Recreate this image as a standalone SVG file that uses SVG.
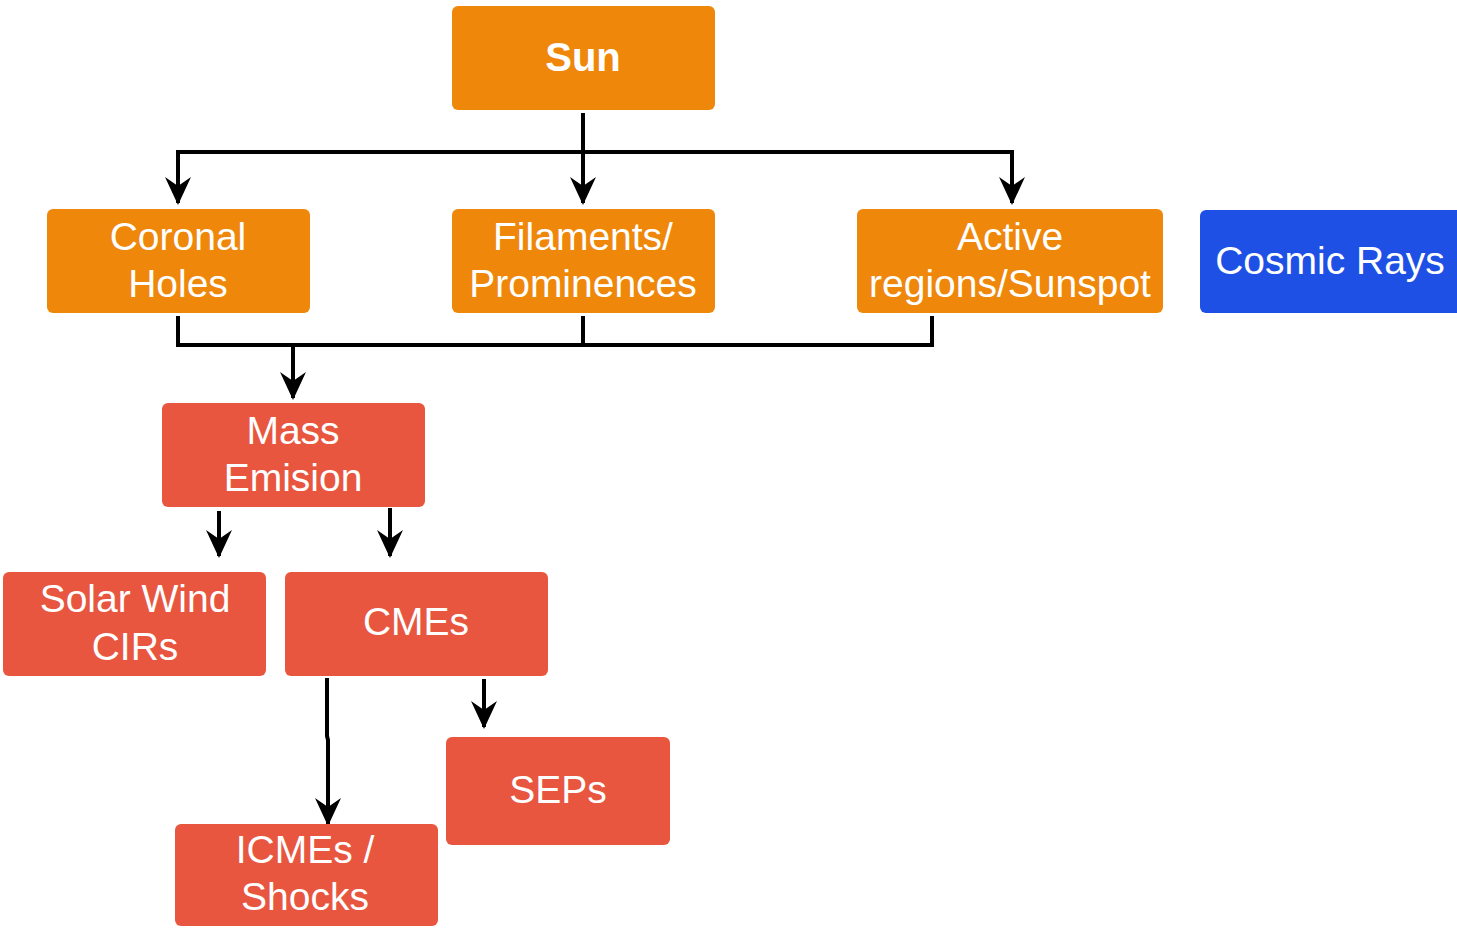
<svg xmlns="http://www.w3.org/2000/svg" width="1457" height="929" viewBox="0 0 1457 929">
<style>
.o{fill:#EF870B}
.r{fill:#E8563F}
.b{fill:#1F50E6}
text{font-family:"Liberation Sans",Arial,sans-serif;font-size:39px;fill:#FFFFFF;text-anchor:middle}
.bold{font-weight:bold;font-size:40px}
.c{fill:none;stroke:#000;stroke-width:4}
</style>
<defs>
<marker id="a" markerUnits="userSpaceOnUse" markerWidth="28" markerHeight="28" refX="26" refY="13" orient="auto" viewBox="0 0 28 26">
<path d="M0,0 L9,13 L0,26 L28,13 Z" fill="#000"/>
</marker>
</defs>
<rect width="1457" height="929" fill="#fff"/>
<g id="connectors">
<path class="c" d="M583,113 V203" marker-end="url(#a)"/>
<path class="c" d="M178,152 H1012"/>
<path class="c" d="M178,150 V203" marker-end="url(#a)"/>
<path class="c" d="M1012,150 V203" marker-end="url(#a)"/>
<path class="c" d="M178,316 V345 H932 V316"/>
<path class="c" d="M583,316 V345"/>
<path class="c" d="M293,345 V398" marker-end="url(#a)"/>
<path class="c" d="M219,511 V556" marker-end="url(#a)"/>
<path class="c" d="M390,508 V556" marker-end="url(#a)"/>
<path class="c" d="M327,678 V736 L328,740 V824" marker-end="url(#a)"/>
<path class="c" d="M484,679 V727" marker-end="url(#a)"/>
</g>
<g id="sun"><rect class="o" x="452" y="6" width="263" height="104" rx="6"/><text class="bold" x="583" y="71">Sun</text></g>
<g id="coronal-holes"><rect class="o" x="47" y="209" width="263" height="104" rx="6"/><text x="178" y="250">Coronal</text><text x="178" y="297">Holes</text></g>
<g id="filaments"><rect class="o" x="452" y="209" width="263" height="104" rx="6"/><text x="583" y="250">Filaments/</text><text x="583" y="297">Prominences</text></g>
<g id="active-regions"><rect class="o" x="857" y="209" width="306" height="104" rx="6"/><text x="1010" y="250">Active</text><text x="1010" y="297">regions/Sunspot</text></g>
<g id="cosmic-rays"><rect class="b" x="1200" y="210" width="265" height="103" rx="6"/><text x="1330" y="274">Cosmic Rays</text></g>
<g id="mass-emision"><rect class="r" x="162" y="403" width="263" height="104" rx="6"/><text x="293" y="444">Mass</text><text x="293" y="491">Emision</text></g>
<g id="solar-wind"><rect class="r" x="3" y="572" width="263" height="104" rx="6"/><text x="135" y="612">Solar Wind</text><text x="135" y="660">CIRs</text></g>
<g id="cmes"><rect class="r" x="285" y="572" width="263" height="104" rx="6"/><text x="416" y="635">CMEs</text></g>
<g id="seps"><rect class="r" x="446" y="737" width="224" height="108" rx="6"/><text x="558" y="803">SEPs</text></g>
<g id="icmes"><rect class="r" x="175" y="824" width="263" height="102" rx="6"/><text x="305" y="863">ICMEs /</text><text x="305" y="910">Shocks</text></g>
</svg>
